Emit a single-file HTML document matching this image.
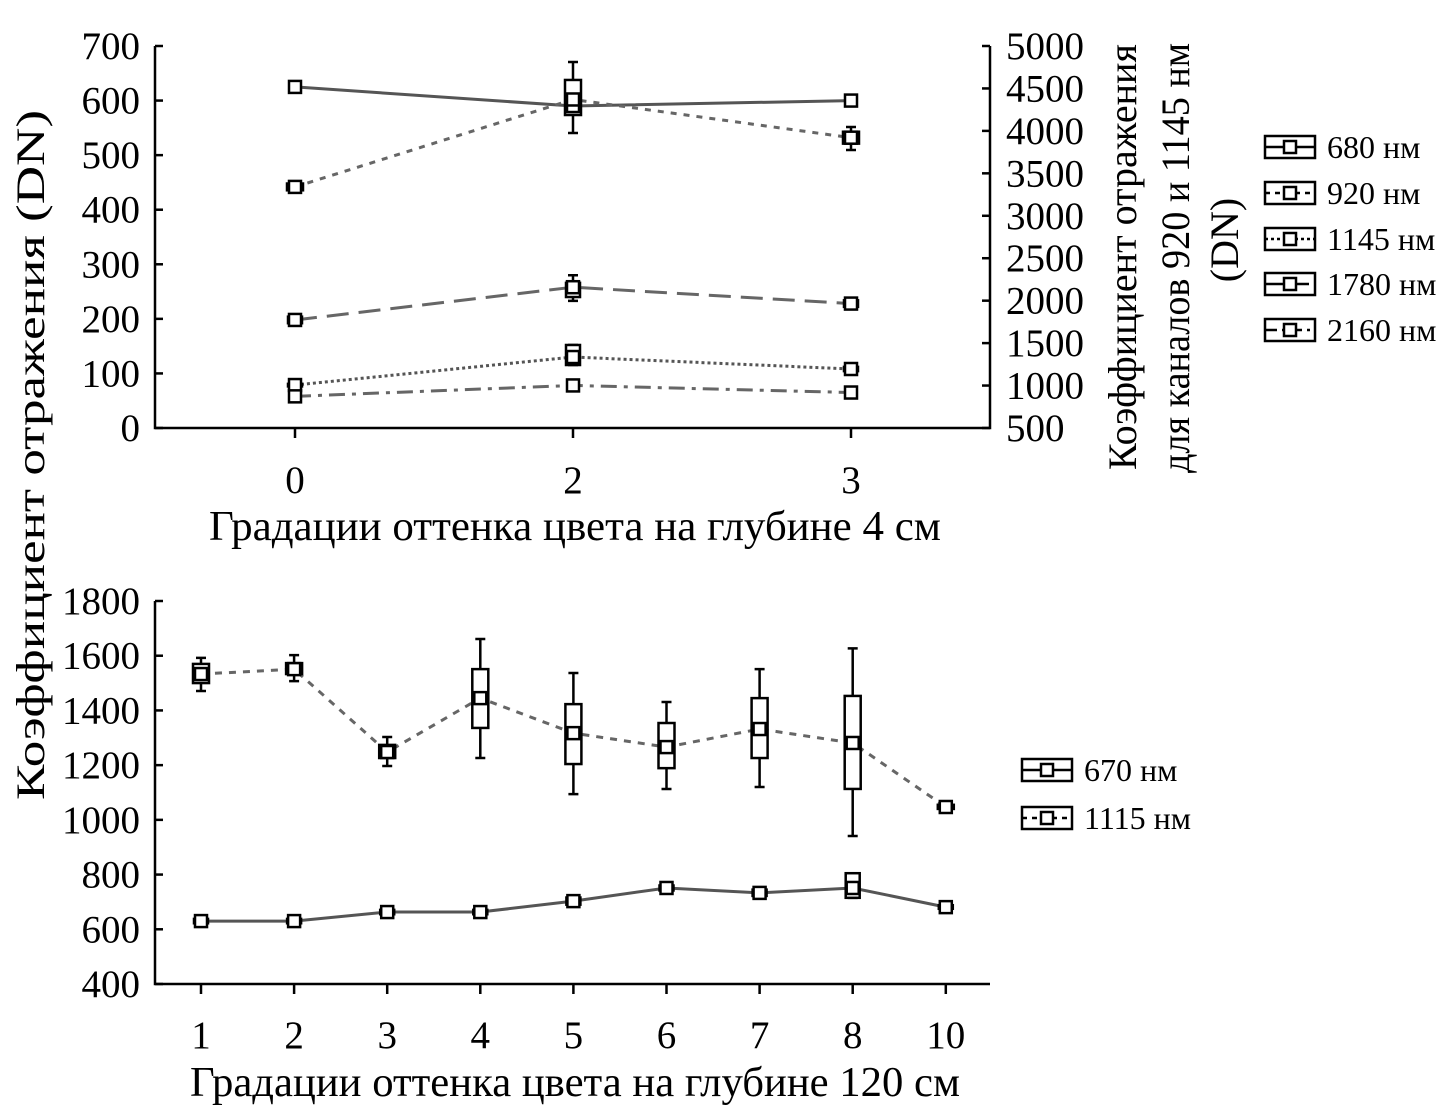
<!DOCTYPE html>
<html><head><meta charset="utf-8"><style>
html,body{margin:0;padding:0;background:#fff}
svg{display:block;font-family:"Liberation Serif","DejaVu Serif",serif}
</style></head><body>
<svg id="chart" width="1441" height="1109" viewBox="0 0 1441 1109" xmlns="http://www.w3.org/2000/svg">
<g id="topChart"></g>
<g id="botChart"></g>
</svg>
<script>
// ---------- TOP CHART DATA ----------
const topCategories = ["0","2","3"];
const topLeftTicks = [0,100,200,300,400,500,600,700];
const topRightTicks = [500,1000,1500,2000,2500,3000,3500,4000,4500,5000];
const s680 = [625,590,600];
const s920 = [3340,4370,3920];
const s920BoxLo = [3300,4187,3850];
const s920BoxHi = [3380,4600,3990];
const s920WLo = [3290,3975,3775];
const s920WHi = [3390,4812,4046];
const s1145 = [1006,1336,1195];
const s1145WLo = [990,1242,1170];
const s1145WHi = [1020,1478,1220];
const s1780 = [198,258,228];
const s1780BoxLo = [192,240,222];
const s1780BoxHi = [204,266,234];
const s1780WLo = [192,233,222];
const s1780WHi = [204,280,234];
const s2160 = [58,78,65];
const topLegendLabels = ["680 нм","920 нм","1145 нм","1780 нм","2160 нм"];
// ---------- BOTTOM CHART DATA ----------
const botCategories = ["1","2","3","4","5","6","7","8","10"];
const botTicks = [400,600,800,1000,1200,1400,1600,1800];
const s1115 = [1533,1551,1248,1445,1317,1266,1332,1281,1047];
const s1115BoxLo = [1500,1533,1226,1336,1204,1189,1226,1113,1040];
const s1115BoxHi = [1570,1573,1274,1551,1423,1354,1445,1453,1055];
const s1115WLo = [1471,1507,1197,1226,1094,1113,1120,941,1040];
const s1115WHi = [1592,1602,1303,1661,1537,1431,1551,1627,1055];
const s670 = [630,630,663,663,703,751,733,751,681];
const s670WLo = [622,622,655,655,690,742,722,715,675];
const s670WHi = [638,638,671,671,716,760,745,805,688];
const botLegendLabels = ["670 нм","1115 нм"];

const NS="http://www.w3.org/2000/svg";
function mk(parent,tag,attrs,text){const e=document.createElementNS(NS,tag);for(const k in attrs)e.setAttribute(k,attrs[k]);if(text!==undefined)e.textContent=text;parent.appendChild(e);return e;}

const T={x0:155,x1:990,y0:428,y1:46};
const tx=i=>295+i*278;
const tyL=v=>T.y0-(v-0)/700*(T.y0-T.y1);
const tyR=v=>T.y0-(v-500)/4500*(T.y0-T.y1);
const B={x0:155,x1:990,y0:984,y1:601};
const bx=i=>201+i*93.1;
const by=v=>B.y0-(v-400)/1400*(B.y0-B.y1);

const gTop=document.getElementById('topChart');
const gBot=document.getElementById('botChart');

let e;
e=mk(gTop,'path',{d:`M${T.x0},${T.y1} V${T.y0} H${T.x1} V${T.y1}`,fill:'none',stroke:'#000','stroke-width':2.5});


topLeftTicks.forEach(v=>{
  const y=tyL(v);
  e=mk(gTop,'line',{x1:T.x0,x2:T.x0+8,y1:y,y2:y,stroke:'#000','stroke-width':2.5});
  
  
  e=mk(gTop,'text',{x:T.x0-15,y:y+13,'text-anchor':'end','font-size':39},String(v));
  
  
});
topRightTicks.forEach(v=>{
  const y=tyR(v);
  e=mk(gTop,'line',{x1:T.x1-8,x2:T.x1,y1:y,y2:y,stroke:'#000','stroke-width':2.5});
  
  
  e=mk(gTop,'text',{x:1006,y:y+13,'text-anchor':'start','font-size':39},String(v));
  
  
});
topCategories.forEach((c,i)=>{
  e=mk(gTop,'line',{x1:tx(i),x2:tx(i),y1:T.y0,y2:T.y0+10,stroke:'#000','stroke-width':2.5});
  
  
  e=mk(gTop,'text',{x:tx(i),y:493,'text-anchor':'middle','font-size':39},c);
  
  
});
e=mk(gTop,'text',{x:575,y:540,'text-anchor':'middle','font-size':42,textLength:732,lengthAdjust:'spacingAndGlyphs'},'Градации оттенка цвета на глубине 4 см');


e=mk(gTop,'text',{transform:'translate(1136,470) rotate(-90)','text-anchor':'start','font-size':40},'Коэффициент отражения');


e=mk(gTop,'text',{transform:'translate(1189,258) rotate(-90)','text-anchor':'middle','font-size':40,textLength:430,lengthAdjust:'spacingAndGlyphs'},'для каналов 920 и 1145 нм');


e=mk(gTop,'text',{transform:'translate(1238,240) rotate(-90)','text-anchor':'middle','font-size':40},'(DN)');


e=mk(gBot,'text',{transform:'translate(44,455) rotate(-90)','text-anchor':'middle','font-size':40,textLength:690,lengthAdjust:'spacingAndGlyphs'},'Коэффициент отражения (DN)');



function series(g,name,xs,ys,vals,dash,color,width){
  const pts=vals.map((v,i)=>xs(i)+','+ys(v)).join(' ');
  const a={points:pts,fill:'none',stroke:color,'stroke-width':width};
  if(dash)a['stroke-dasharray']=dash;
  const l=mk(g,'polyline',a);
  
  
}
function boxes(g,name,xs,ys,lo,hi,wlo,whi,w){
  lo.forEach((_,i)=>{
    const x=xs(i);
    const wl=mk(g,'path',{d:`M${x},${ys(whi[i])} V${ys(wlo[i])} M${x-5},${ys(whi[i])} H${x+5} M${x-5},${ys(wlo[i])} H${x+5}`,stroke:'#000','stroke-width':2.5,fill:'none'});
    
    
    const y1=ys(hi[i]),y2=ys(lo[i]);
    const r=mk(g,'rect',{x:x-w/2,y:y1,width:w,height:Math.max(2,y2-y1),fill:'#fff',stroke:'#000','stroke-width':2.5});
    
    
  });
}
function markers(g,name,xs,ys,vals){
  vals.forEach((v,i)=>{
    const r=mk(g,'rect',{x:xs(i)-6,y:ys(v)-6,width:12,height:12,fill:'#fff',stroke:'#000','stroke-width':2.5});
    
    
  });
}
series(gTop,'s680',tx,tyL,s680,null,'#555',3);
series(gTop,'s920',tx,tyR,s920,'6 7','#666',3);
series(gTop,'s1145',tx,tyR,s1145,'3 3','#555',3);
series(gTop,'s1780',tx,tyL,s1780,'22 10','#666',3);
series(gTop,'s2160',tx,tyL,s2160,'16 7 4 7','#666',3);
boxes(gTop,'s920',tx,tyR,s920BoxLo,s920BoxHi,s920WLo,s920WHi,16);
boxes(gTop,'s1145',tx,tyR,s1145WLo,s1145WHi,s1145WLo,s1145WHi,14);
boxes(gTop,'s1780',tx,tyL,s1780BoxLo,s1780BoxHi,s1780WLo,s1780WHi,14);
markers(gTop,'s680',tx,tyL,s680);
markers(gTop,'s920',tx,tyR,s920);
markers(gTop,'s1145',tx,tyR,s1145);
markers(gTop,'s1780',tx,tyL,s1780);
markers(gTop,'s2160',tx,tyL,s2160);

function legend(g,x,ys,labels,dashes){
  labels.forEach((lab,i)=>{
    const y=ys[i];
    const grp=mk(g,'g',{});
    
    
    mk(grp,'rect',{x:x,y:y-11,width:50,height:22,fill:'#fff',stroke:'#000','stroke-width':2.5});
    const la={x1:x,x2:x+50,y1:y,y2:y,stroke:'#000','stroke-width':2.5};
    if(dashes[i])la['stroke-dasharray']=dashes[i];
    mk(grp,'line',la);
    mk(grp,'rect',{x:x+19,y:y-6,width:12,height:12,fill:'#fff',stroke:'#000','stroke-width':2.5});
    mk(grp,'text',{x:x+62,y:y+11,'font-size':32},lab);
  });
}
legend(gTop,1265,[147,193,239,284,330],topLegendLabels,[null,'5 5','3 3','18 8','12 5 3 5']);

e=mk(gBot,'path',{d:`M${B.x0},${B.y1} V${B.y0} H${B.x1}`,fill:'none',stroke:'#000','stroke-width':2.5});


botTicks.forEach(v=>{
  const y=by(v);
  e=mk(gBot,'line',{x1:B.x0,x2:B.x0+8,y1:y,y2:y,stroke:'#000','stroke-width':2.5});
  
  
  e=mk(gBot,'text',{x:B.x0-15,y:y+13,'text-anchor':'end','font-size':39},String(v));
  
  
});
botCategories.forEach((c,i)=>{
  e=mk(gBot,'line',{x1:bx(i),x2:bx(i),y1:B.y0,y2:B.y0+10,stroke:'#000','stroke-width':2.5});
  
  
  e=mk(gBot,'text',{x:bx(i),y:1048,'text-anchor':'middle','font-size':39},c);
  
  
});
e=mk(gBot,'text',{x:575,y:1096,'text-anchor':'middle','font-size':42,textLength:770,lengthAdjust:'spacingAndGlyphs'},'Градации оттенка цвета на глубине 120 см');



series(gBot,'s1115',bx,by,s1115,'7 7','#666',3);
series(gBot,'s670',bx,by,s670,null,'#555',3);
boxes(gBot,'s1115',bx,by,s1115BoxLo,s1115BoxHi,s1115WLo,s1115WHi,16);
boxes(gBot,'s670',bx,by,s670WLo,s670WHi,s670WLo,s670WHi,14);
markers(gBot,'s1115',bx,by,s1115);
markers(gBot,'s670',bx,by,s670);
legend(gBot,1022,[770,818],botLegendLabels,[null,'5 5']);
</script>
</body></html>
